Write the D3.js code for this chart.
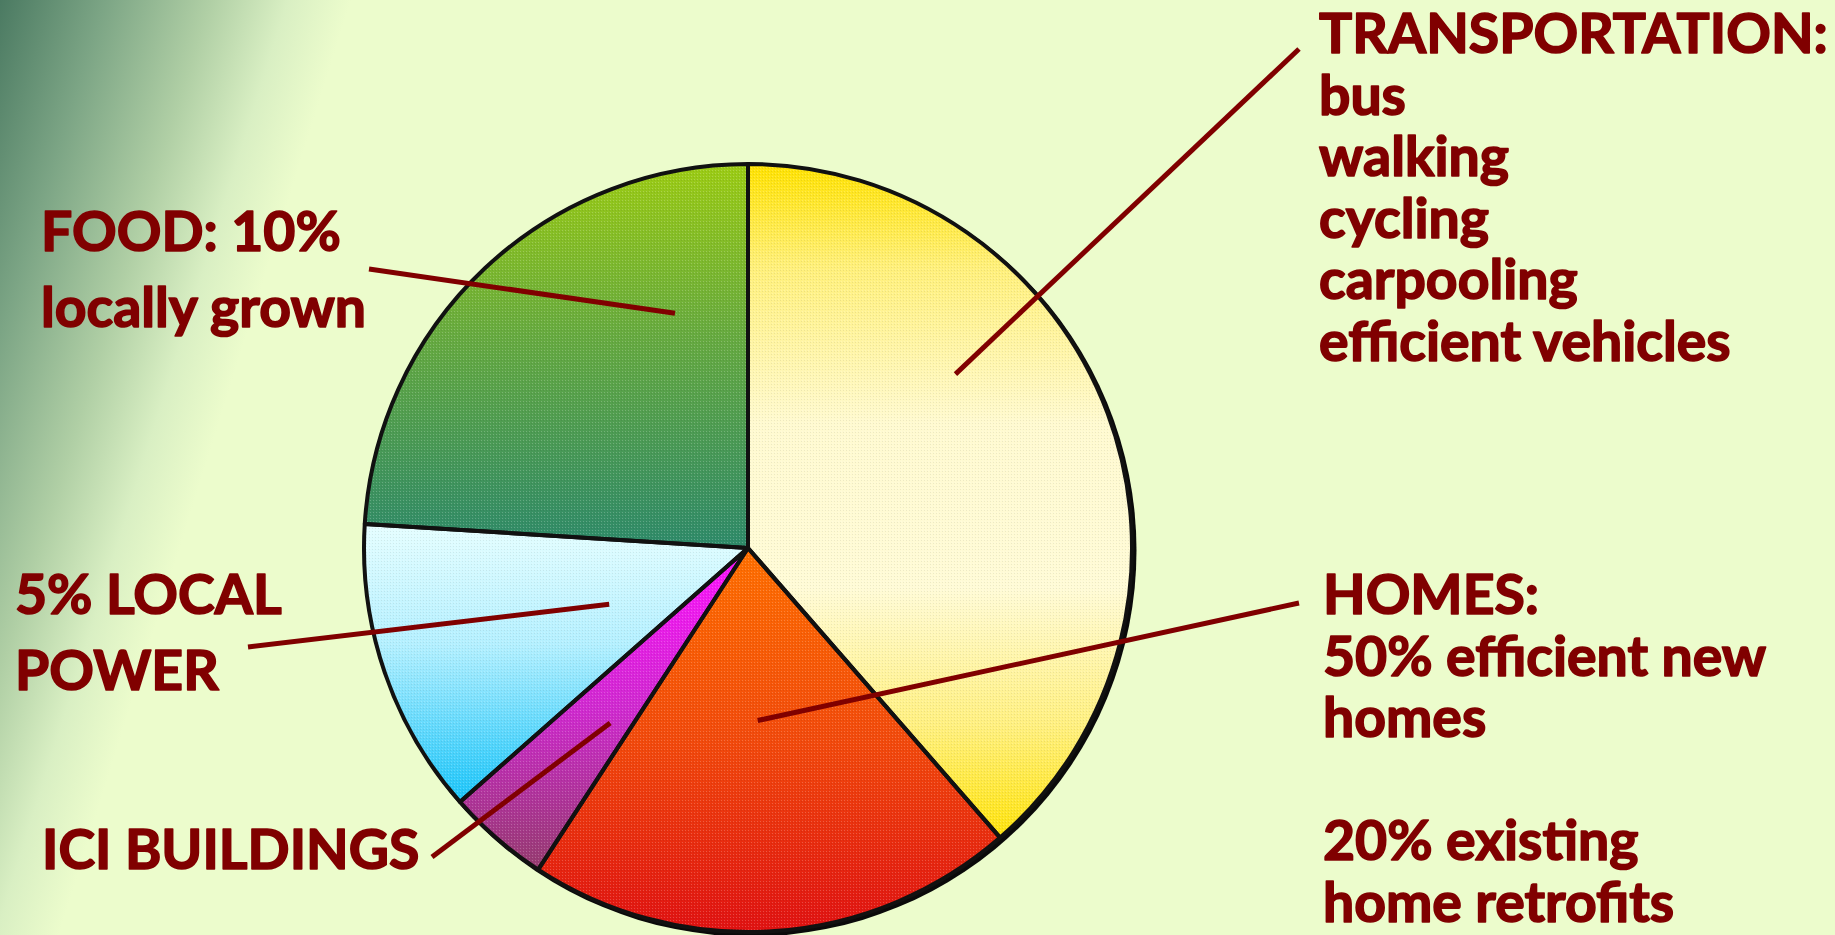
<!DOCTYPE html>
<html>
<head>
<meta charset="utf-8">
<style>
  html, body { margin: 0; padding: 0; overflow: hidden; background: #ecfccc; }
  svg { display: block; }
</style>
</head>
<body>
<svg id="chart" width="1835" height="935"></svg>
<script src="https://cdn.jsdelivr.net/npm/d3@7"></script>
<script>
// donnees : parts du camembert, dans le sens horaire depuis midi
const categories = ['Transportation', 'Homes', 'ICI buildings', 'Local power', 'Food'];
const shares = [38.6, 20.6, 4.3, 12.5, 24.0];
const labelLines = [
  ['TRANSPORTATION:', 'bus', 'walking', 'cycling', 'carpooling', 'efficient vehicles'],
  ['HOMES:', '50% efficient new', 'homes', '', '20% existing', 'home retrofits'],
  ['ICI BUILDINGS'],
  ['5% LOCAL', 'POWER'],
  ['FOOD: 10%', 'locally grown']
];

(function () {
  const W = 1835, H = 935;
  const cx = 748, cy = 548, R = 384;
  const ink = '#800000';
  const svg = d3.select('#chart');
  const defs = svg.append('defs');

  // mise en page des etiquettes (x, 1re ligne de base, interligne, bout de la ligne de rappel,
  // point d'ancrage dans la part : fraction d'angle, fraction de rayon)
  const layout = [
    { x: 1319, y: 53,  lh: 61.6, end: [1299, 49],  at: [0.36, 0.705] },
    { x: 1323, y: 614, lh: 61.6, end: [1299, 603], at: [0.51, 0.45] },
    { x: 42,   y: 869, lh: 0,    end: [432, 857],  at: [0.33, 0.58] },
    { x: 15,   y: 614, lh: 76,   end: [248, 647],  at: [0.43, 0.39] },
    { x: 41,   y: 251, lh: 76,   end: [369, 269],  at: [0.80, 0.64] }
  ];

  // degradés des parts (y relatifs au centre)
  const fills = [
    { y1: -R, y2: 300, stops: [[0, '#ffe200'], [0.15, '#fff07a'], [0.38, '#fffad0'], [0.62, '#fffbd6'], [0.82, '#fff080'], [1, '#ffe200']] },
    { y1: 0, y2: R, stops: [[0, '#ff7000'], [0.5, '#f24a0c'], [1, '#e01212']] },
    { y1: 0, y2: 320, stops: [[0, '#ff12ff'], [0.5, '#d02ad0'], [1, '#963c70']] },
    { y1: -30, y2: 250, stops: [[0, '#e8ffff'], [0.45, '#b4f0ff'], [1, '#1ec6fa']] },
    { y1: -R, y2: 0, stops: [[0, '#9ccc14'], [0.45, '#66aa40'], [1, '#2e8a6a']] }
  ];

  // fond + voile vert en haut a gauche
  const bg = defs.append('linearGradient').attr('id', 'bgGrad')
    .attr('gradientUnits', 'userSpaceOnUse')
    .attr('x1', 0).attr('y1', 0).attr('x2', 320).attr('y2', 100);
  [[0, '#4b7a62'], [0.3, '#7ca585'], [0.6, '#b0cfa5'], [0.82, '#d9efc3'], [1, '#ecfccc']]
    .forEach(([o, c]) => bg.append('stop').attr('offset', o).attr('stop-color', c));
  svg.append('rect').attr('width', W).attr('height', H).attr('fill', 'url(#bgGrad)');

  fills.forEach((f, i) => {
    const g = defs.append('linearGradient').attr('id', 'slice' + i)
      .attr('gradientUnits', 'userSpaceOnUse')
      .attr('x1', 0).attr('y1', f.y1).attr('x2', 0).attr('y2', f.y2);
    f.stops.forEach(([o, c]) => g.append('stop').attr('offset', o).attr('stop-color', c));
  });

  // petit grain pour imiter le tramage de l'image
  const pat = defs.append('pattern').attr('id', 'grain')
    .attr('patternUnits', 'userSpaceOnUse').attr('width', 3).attr('height', 3);
  pat.append('rect').attr('x', 0).attr('y', 0).attr('width', 1).attr('height', 1).attr('fill', '#fff').attr('opacity', 0.35);
  pat.append('rect').attr('x', 2).attr('y', 1).attr('width', 1).attr('height', 1).attr('fill', '#000').attr('opacity', 0.12);

  const pie = d3.pie().sort(null).value(d => d);
  const arcs = pie(shares);
  const arc = d3.arc().innerRadius(0).outerRadius(R);

  const gPie = svg.append('g').attr('transform', `translate(${cx},${cy})`);

  // ombre sombre en bas a droite
  gPie.append('circle').attr('cx', 2.5).attr('cy', 2.5).attr('r', R + 2).attr('fill', '#0a0a0a');

  gPie.selectAll('path.slice')
    .data(arcs)
    .join('path')
    .attr('class', 'slice')
    .attr('d', arc)
    .attr('fill', (d, i) => `url(#slice${i})`);

  gPie.append('circle').attr('r', R - 2).attr('fill', 'url(#grain)').attr('opacity', 0.6);

  gPie.selectAll('path.edge')
    .data(arcs)
    .join('path')
    .attr('class', 'edge')
    .attr('d', arc)
    .attr('fill', 'none')
    .attr('stroke', '#111')
    .attr('stroke-width', 4)
    .attr('stroke-linejoin', 'round');

  // lignes de rappel
  const anchor = (d, i) => {
    const [fa, fr] = layout[i].at;
    const a = d.startAngle + fa * (d.endAngle - d.startAngle);
    const r = fr * R;
    return [cx + r * Math.sin(a), cy - r * Math.cos(a)];
  };
  svg.selectAll('line.lead')
    .data(arcs)
    .join('line')
    .attr('class', 'lead')
    .attr('x1', (d, i) => layout[i].end[0])
    .attr('y1', (d, i) => layout[i].end[1])
    .attr('x2', (d, i) => anchor(d, i)[0])
    .attr('y2', (d, i) => anchor(d, i)[1])
    .attr('stroke', ink)
    .attr('stroke-width', 5);

  const font = 'Lato, "Open Sans", sans-serif';
  const fitTargets = [['TRANSPORTATION:', 501], ['efficient vehicles', 441], ['50% efficient new', 467],
    ['FOOD: 10%', 293], ['locally grown', 345], ['ICI BUILDINGS', 367], ['5% LOCAL', 259]];
  const probe = svg.append('text').attr('font-family', font)
    .attr('font-weight', 700).attr('font-size', 100);
  let measured = 0, wanted = 0;
  fitTargets.forEach(([t, w]) => { probe.text(t); measured += probe.node().getComputedTextLength(); wanted += w; });
  probe.remove();
  const fontSize = 0.985 * 100 * wanted / measured;

  const gLab = svg.append('g')
    .attr('font-family', font)
    .attr('font-weight', 700)
    .attr('font-size', fontSize)
    .attr('fill', ink)
    .attr('stroke', ink)          // un peu plus gras, comme le Calibri de l'original
    .attr('stroke-width', 1.6)
    .attr('stroke-linejoin', 'round');

  labelLines.forEach((lines, i) => {
    const L = layout[i];
    const t = gLab.append('text').attr('x', L.x).attr('y', L.y);
    lines.forEach((s, j) => {
      if (!s) return;
      t.append('tspan').attr('x', L.x).attr('y', L.y + j * L.lh).text(s);
    });
  });
})();
</script>
</body>
</html>
